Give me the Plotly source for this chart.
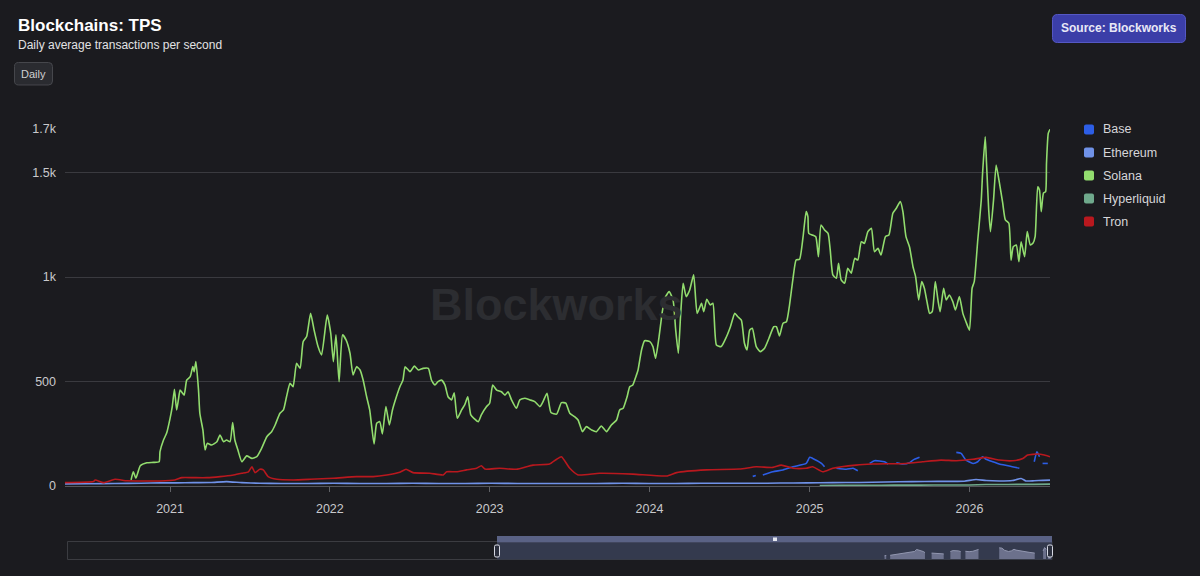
import pandas as pd
import plotly.graph_objects as go

W, H = 1200, 576
EPOCH = pd.Timestamp("2020-01-01")   # all *_days below are days since this date

# ---------------- data ----------------
series_names = ["Base", "Ethereum", "Solana", "Hyperliquid", "Tron"]
series_colors = ["#2d5ee6", "#7092e8", "#92dc6e", "#6fa98c", "#b9181e"]

solana_days = [
    277, 282, 288, 298, 313, 328, 341, 343, 351, 358,
    366, 371, 376, 381, 385, 389, 398, 404, 412, 418,
    421, 425, 431, 434, 441, 446, 451, 461, 473, 480,
    488, 495, 503, 509, 514, 521, 530, 541, 553, 564,
    575, 587, 598, 606, 617, 625, 632, 640, 647, 655,
    663, 670, 678, 687, 695, 704, 712, 725, 733, 739,
    745, 752, 760, 768, 777, 784, 792, 800, 807, 815,
    822, 832, 838, 845, 851, 859, 867, 874, 883, 891,
    898, 903, 914, 924, 933, 944, 956, 963, 971, 978,
    986, 994, 1001, 1009, 1015, 1022, 1032, 1039, 1046, 1053,
    1060, 1070, 1077, 1089, 1096, 1103, 1112, 1123, 1131, 1138,
    1146, 1157, 1165, 1176, 1188, 1199, 1211, 1218, 1227, 1236,
    1249, 1260, 1270, 1279, 1290, 1298, 1308, 1317, 1329, 1340,
    1351, 1363, 1374, 1386, 1393, 1401, 1410, 1416, 1423, 1430,
    1435, 1443, 1450, 1462, 1469, 1475, 1483, 1491, 1498, 1506,
    1515, 1521, 1527, 1532, 1538, 1545, 1553, 1562, 1570, 1580,
    1585, 1592, 1600, 1606, 1614, 1625, 1637, 1646, 1656, 1663,
    1671, 1678, 1684, 1690, 1696, 1705, 1714, 1724, 1734, 1745,
    1751, 1758, 1766, 1774, 1781, 1789, 1796, 1804, 1812, 1819,
    1823, 1825, 1833, 1841, 1847, 1853, 1861, 1869, 1874, 1880,
    1888, 1893, 1899, 1907, 1914, 1922, 1930, 1937, 1945, 1952,
    1960, 1968, 1975, 1983, 1990, 2000, 2008, 2017, 2025, 2034,
    2040, 2047, 2055, 2063, 2069, 2076, 2083, 2089, 2095, 2101,
    2107, 2114, 2120, 2125, 2133, 2139, 2146, 2154, 2160, 2169,
    2177, 2184, 2192, 2198, 2203, 2211, 2219, 2222, 2228, 2231,
    2236, 2240, 2247, 2253, 2260, 2268, 2274, 2282, 2287, 2292,
    2299, 2305, 2310, 2318, 2324, 2331, 2337, 2342, 2348, 2352,
    2356, 2361, 2366, 2368, 2372, 2376,
]
solana_tps = [
    29, 68, 38, 97, 111, 113, 116, 164, 220, 252,
    324, 380, 463, 364, 412, 459, 435, 507, 523, 571,
    547, 595, 459, 348, 268, 172, 204, 196, 212, 244,
    212, 220, 212, 303, 220, 172, 116, 144, 132, 140,
    180, 236, 260, 292, 348, 364, 427, 491, 475, 587,
    563, 690, 715, 826, 746, 667, 627, 818, 731, 595,
    723, 499, 723, 699, 635, 531, 571, 555, 507, 427,
    364, 201, 300, 308, 249, 380, 292, 364, 427, 475,
    507, 571, 547, 574, 555, 563, 563, 507, 483, 499,
    507, 483, 427, 412, 446, 324, 364, 388, 427, 340,
    324, 308, 340, 380, 396, 483, 459, 451, 435, 451,
    412, 372, 412, 420, 412, 404, 380, 404, 444, 352,
    344, 399, 396, 348, 332, 316, 260, 284, 268, 260,
    287, 260, 292, 316, 364, 372, 427, 475, 483, 523,
    555, 651, 695, 691, 667, 611, 714, 842, 906, 930,
    890, 746, 635, 810, 970, 906, 938, 1010, 826, 874,
    834, 893, 866, 874, 675, 667, 714, 762, 826, 810,
    794, 683, 651, 746, 755, 667, 643, 659, 707, 762,
    762, 718, 778, 786, 866, 994, 1081, 1085, 1193, 1313,
    1289, 1209, 1201, 1193, 1097, 1249, 1225, 1209, 1129, 1010,
    994, 1066, 986, 970, 1042, 1018, 1089, 1081, 1169, 1161,
    1217, 1233, 1121, 1137, 1105, 1193, 1201, 1305, 1329, 1361,
    1313, 1193, 1145, 1049, 1002, 890, 978, 946, 882, 826,
    834, 978, 890, 834, 946, 890, 914, 882, 842, 906,
    826, 786, 746, 946, 978, 1177, 1368, 1496, 1671, 1544,
    1321, 1217, 1368, 1536, 1456, 1353, 1273, 1257, 1081, 1145,
    1153, 1073, 1169, 1097, 1217, 1153, 1161, 1193, 1432, 1416,
    1313, 1401, 1409, 1544, 1687, 1707,
]

tron_days = [
    126, 191, 195, 214, 240, 267, 305, 343, 377, 393,
    419, 450, 480, 511, 530, 545, 553, 560, 571, 579,
    590, 610, 647, 686, 739, 792, 830, 861, 891, 905,
    921, 959, 990, 998, 1020, 1043, 1066, 1077, 1085, 1119,
    1157, 1195, 1233, 1249, 1260, 1279, 1298, 1347, 1423, 1500,
    1523, 1591, 1667, 1705, 1743, 1762, 1789, 1819, 1834, 1857,
    1880, 1933, 1971, 2047, 2085, 2127, 2162, 2200, 2230, 2260,
    2291, 2314, 2325, 2348, 2363, 2376,
]
tron_tps = [
    16, 21, 29, 16, 32, 25, 24, 24, 29, 40,
    40, 40, 45, 53, 61, 68, 92, 64, 80, 77,
    45, 32, 29, 32, 37, 45, 45, 53, 66, 80,
    64, 61, 53, 68, 68, 77, 85, 97, 81, 85,
    80, 100, 105, 128, 140, 85, 53, 61, 57, 48,
    64, 77, 81, 92, 89, 100, 85, 85, 92, 68,
    85, 100, 105, 108, 116, 124, 121, 128, 137, 124,
    121, 132, 148, 153, 148, 140,
]

# None = no data (gap in the line)
base_days = [
    1697, 1704, 1712, 1720, 1743, 1766, 1789, 1819, 1827, 1834,
    1854, 1861, 1875, 1888, 1911, 1926, 1937, 1950, 1964, 1975,
    1998, 2006, 2015, 2025, 2040, 2055, 2063, 2078, 2120, 2162,
    2173, 2184, 2200, 2211, 2222, 2230, 2245, 2260, 2283, 2306,
    2323, 2340, 2346, 2352, 2355, 2359, 2371,
]
base_tps = [
    46, 50, None, 53, 68, 77, 92, 108, 137, 132,
    108, 92, None, 85, 80, 85, 73, None, 108, 121,
    116, 105, None, 111, 105, 111, 124, 137, None, 161,
    156, 124, 108, 116, 140, 128, 116, 105, 96, 85,
    None, 116, 164, 140, None, 108, 108,
]

ethereum_days = [
    126, 180, 240, 300, 343, 380, 420, 460, 495, 530,
    571, 620, 680, 740, 800, 860, 920, 980, 1040, 1100,
    1160, 1220, 1280, 1340, 1400, 1460, 1520, 1580, 1640, 1700,
    1760, 1820, 1880, 1940, 2000, 2060, 2120, 2180, 2207, 2230,
    2260, 2290, 2310, 2321, 2340, 2360, 2376,
]
ethereum_tps = [
    10, 11, 12, 13, 15, 15, 16, 17, 21, 16,
    13, 12, 12, 13, 12, 12, 13, 12, 12, 13,
    12, 12, 12, 12, 13, 12, 12, 13, 13, 13,
    14, 15, 16, 17, 19, 21, 22, 23, 31, 26,
    24, 26, 36, 24, 25, 27, 28,
]

hyperliquid_days = [1850, 1900, 1960, 2020, 2080, 2140, 2192, 2230, 2260, 2300, 2340, 2376]
hyperliquid_tps = [2, 3, 3, 4, 4, 5, 5, 7, 7, 8, 8, 9]

y_tick_vals = [0, 500, 1000, 1500, 1708]
y_tick_text = ["0", "500", "1k", "1.5k", "1.7k"]
x_tick_years = ["2021", "2022", "2023", "2024", "2025", "2026"]

view_days = [126, 2376]          # visible window of the main chart
navigator_days = [-1613, 2376]   # window of the navigator strip

for d, v in [(solana_days, solana_tps), (tron_days, tron_tps), (base_days, base_tps),
             (ethereum_days, ethereum_tps), (hyperliquid_days, hyperliquid_tps)]:
    assert len(d) == len(v)

# ---------------- helpers ----------------
def to_dates(days):
    return [EPOCH + pd.Timedelta(days=int(d)) for d in days]

def px(x):
    return x / W

def py(y):
    return 1 - y / H

def rrect(x0, y0, x1, y1, r):
    P = lambda x, y: f"{px(x):.6f},{py(y):.6f}"
    return (f"M {P(x0 + r, y0)} L {P(x1 - r, y0)} Q {P(x1, y0)} {P(x1, y0 + r)} "
            f"L {P(x1, y1 - r)} Q {P(x1, y1)} {P(x1 - r, y1)} L {P(x0 + r, y1)} "
            f"Q {P(x0, y1)} {P(x0, y1 - r)} L {P(x0, y0 + r)} Q {P(x0, y0)} {P(x0 + r, y0)} Z")

def segments(days, vals):
    segs, cur = [], ([], [])
    for d, v in zip(days, vals):
        if v is None:
            if cur[0]:
                segs.append(cur)
            cur = ([], [])
        else:
            cur[0].append(d)
            cur[1].append(v)
    if cur[0]:
        segs.append(cur)
    return segs

FONT = "Liberation Sans, Arial, Helvetica, sans-serif"
BG = "#1b1b1f"

series = {
    "Base": (base_days, base_tps),
    "Ethereum": (ethereum_days, ethereum_tps),
    "Solana": (solana_days, solana_tps),
    "Hyperliquid": (hyperliquid_days, hyperliquid_tps),
    "Tron": (tron_days, tron_tps),
}

fig = go.Figure()

for name, color in zip(series_names, series_colors):
    days, vals = series[name]
    fig.add_trace(go.Scatter(
        x=to_dates(days), y=vals, name=name, mode="lines",
        line=dict(color=color, width=1.6, shape="spline", smoothing=0.5), connectgaps=False,
        hoverinfo="skip", showlegend=False,
    ))

# navigator strip (Base as area, one filled piece per data run)
for sd, sv in segments(base_days, base_tps):
    fig.add_trace(go.Scatter(
        x=to_dates(sd), y=sv, mode="lines", fill="tozeroy",
        line=dict(color="#9297b0", width=1), fillcolor="#6c718c",
        xaxis="x2", yaxis="y2", hoverinfo="skip", showlegend=False,
    ))

shapes = []
annotations = []

# title block
annotations.append(dict(x=px(16), y=py(25), xref="paper", yref="paper", xanchor="left", yanchor="middle",
                        text="<b>Blockchains: TPS</b>", showarrow=False,
                        font=dict(family=FONT, size=17, color="#ffffff")))
annotations.append(dict(x=px(16), y=py(45), xref="paper", yref="paper", xanchor="left", yanchor="middle",
                        text="Daily average transactions per second", showarrow=False,
                        font=dict(family=FONT, size=12, color="#e2e2e4")))
# Daily button
shapes.append(dict(type="path", path=rrect(14.5, 62.5, 52.5, 85, 4), xref="paper", yref="paper",
                   fillcolor="#2a2b30", line=dict(color="#46474c", width=1), layer="above"))
annotations.append(dict(x=px(33.5), y=py(73.8), xref="paper", yref="paper", xanchor="center", yanchor="middle",
                        text="Daily", showarrow=False, font=dict(family=FONT, size=11, color="#cfcfd2")))
# Source button
shapes.append(dict(type="path", path=rrect(1052.5, 14.5, 1185.5, 42.5, 5), xref="paper", yref="paper",
                   fillcolor="#3b3ea8", line=dict(color="#5558c4", width=1), layer="above"))
annotations.append(dict(x=px(1119), y=py(28.5), xref="paper", yref="paper", xanchor="center", yanchor="middle",
                        text="<b>Source: Blockworks</b>", showarrow=False,
                        font=dict(family=FONT, size=12, color="#e8e8f6")))
# watermark
annotations.append(dict(x=px(556), y=py(304), xref="paper", yref="paper", xanchor="center", yanchor="middle",
                        text="<b>Blockworks</b>", showarrow=False,
                        font=dict(family=FONT, size=45, color="#2c2d31")))

# legend
for i, (name, color) in enumerate(zip(series_names, series_colors)):
    cy = 129.5 + 23 * i
    shapes.append(dict(type="path", path=rrect(1084, cy - 5, 1094, cy + 5, 2), xref="paper", yref="paper",
                       fillcolor=color, line=dict(width=0), layer="above"))
    annotations.append(dict(x=px(1100.5), y=py(cy), xref="paper", yref="paper", xanchor="left", yanchor="middle",
                            text=name, showarrow=False, font=dict(family=FONT, size=12.5, color="#d6d6d9")))

# navigator chrome
shapes.append(dict(type="rect", x0=px(67.5), x1=px(1052), y0=py(541.5), y1=py(559.5), xref="paper", yref="paper",
                   fillcolor="#1c1d21", line=dict(color="#3b3c41", width=1), layer="below"))
shapes.append(dict(type="rect", x0=px(497), x1=px(1052), y0=py(542.5), y1=py(559.5), xref="paper", yref="paper",
                   fillcolor="#343a4e", line=dict(width=0), layer="below"))
shapes.append(dict(type="rect", x0=px(497), x1=px(1052), y0=py(536), y1=py(542.5), xref="paper", yref="paper",
                   fillcolor="#5a6285", line=dict(width=0), layer="above"))
shapes.append(dict(type="rect", x0=px(773), x1=px(777), y0=py(537.5), y1=py(541), xref="paper", yref="paper",
                   fillcolor="#e6e8f0", line=dict(width=0), layer="above"))
for hx in (497, 1050):
    shapes.append(dict(type="path", path=rrect(hx - 2.5, 545, hx + 2.5, 557, 1.5), xref="paper", yref="paper",
                       fillcolor="#2a2e3c", line=dict(color="#d8dae4", width=1), layer="above"))

fig.update_layout(
    width=W, height=H, autosize=False,
    margin=dict(l=0, r=0, t=0, b=0, pad=0, autoexpand=False),
    paper_bgcolor=BG, plot_bgcolor="rgba(0,0,0,0)",
    showlegend=False,
    font=dict(family=FONT, color="#c9c9cc"),
    xaxis=dict(
        domain=[px(65), px(1050)], type="date",
        range=to_dates(view_days),
        tickvals=[f"{y}-01-01" for y in x_tick_years], ticktext=x_tick_years,
        showgrid=False, zeroline=False,
        showline=True, linecolor="#55565b", linewidth=1,
        ticks="outside", ticklen=5, tickcolor="#606166", tickwidth=1,
        ticklabelstandoff=6,
        tickfont=dict(family=FONT, size=12.5, color="#c9c9cc"),
        fixedrange=True, automargin=False,
    ),
    yaxis=dict(
        domain=[py(486), py(128.2)],
        range=[0, 1712],
        tickvals=y_tick_vals, ticktext=y_tick_text,
        showgrid=True, gridcolor="#3a3a3f", gridwidth=1,
        zeroline=False, showline=False, ticks="",
        ticklabelstandoff=8,
        tickfont=dict(family=FONT, size=12.5, color="#c9c9cc"),
        fixedrange=True, automargin=False,
    ),
    xaxis2=dict(domain=[px(68), px(1052)], anchor="y2", type="date",
                range=to_dates(navigator_days), visible=False, fixedrange=True),
    yaxis2=dict(domain=[py(559), py(543)], anchor="x2", range=[0, 230], visible=False, fixedrange=True),
    shapes=shapes,
    annotations=annotations,
)

fig.write_html("out.html")
